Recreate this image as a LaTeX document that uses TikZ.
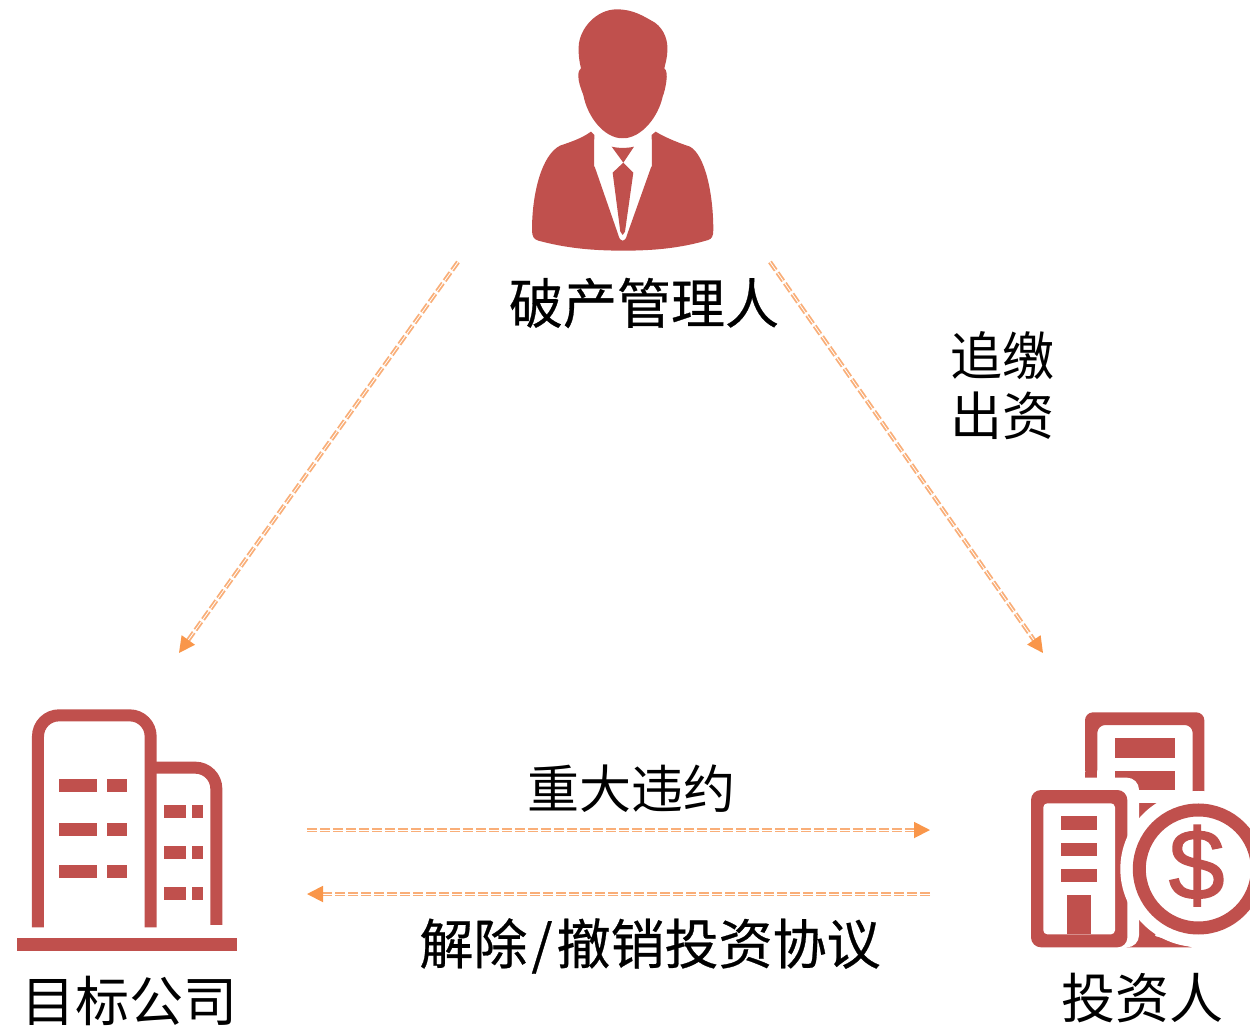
\documentclass[tikz,border=0pt]{standalone}
\usepackage{fontspec}
\newfontfamily\cjk{Noto Sans CJK SC}
\newfontfamily\cjkheavy[FakeBold=0.5]{Noto Sans CJK SC}
\newfontfamily\dollarfont[FakeBold=1.6]{Liberation Sans}
\usetikzlibrary{arrows.meta}
\definecolor{iconred}{HTML}{C0504D}
\definecolor{tiporange}{HTML}{F9964A}
\definecolor{lineorange}{HTML}{F9AE78}
\tikzset{
  iconline/.style={draw=iconred,line width=12pt,line cap=butt},
  haloshape/.style={fill=white,draw=none},
  label/.style={font=\cjk\fontsize{52}{52}\selectfont,text=black,inner sep=0pt,align=center},
  biglabel/.style={font=\cjk\fontsize{54}{54}\selectfont,text=black,inner sep=0pt,align=center},
  heavylabel/.style={font=\cjkheavy\fontsize{54}{54}\selectfont,text=black,inner sep=0pt,align=center},
  flow/.style={draw=lineorange,line width=1.8pt,double=white,double distance=0.8pt,
    dash pattern=on 10pt off 3pt,
    -{Triangle[length=16pt,width=16pt,color=tiporange,fill=tiporange,sep=0pt]}}
}
\begin{document}
\begin{tikzpicture}[x=1pt,y=-1pt]
\useasboundingbox (0,0) rectangle (1250,1029);
\clip (0,0) rectangle (1250,1029);

% ---- person
\begin{scope}[shift={(510,0)},x=0.3333pt,y=-0.3333pt]
\fill[iconred] (320,28) .. controls (370,28) and (400,48) .. (435,68)
  .. controls (465,90) and (474,125) .. (472,150)
  .. controls (472,175) and (466,190) .. (463,205)
  .. controls (470,210) and (472,225) .. (469,245)
  .. controls (466,265) and (462,280) .. (458,290)
  .. controls (445,350) and (395,415) .. (338,415)
  .. controls (282,415) and (232,350) .. (220,285)
  .. controls (212,265) and (205,245) .. (205,228)
  .. controls (205,215) and (208,208) .. (213,205)
  .. controls (208,185) and (205,165) .. (206,140)
  .. controls (208,85) and (260,28) .. (320,28) -- cycle;
\fill[iconred] (243,395) -- (253,405) -- (253,497) -- (325,705)
  .. controls (330,728) and (346,728) .. (351,705)
  -- (425,497) -- (425,405) -- (437,395)
  .. controls (470,415) and (510,430) .. (540,440)
  .. controls (585,465) and (610,580) .. (610,690)
  .. controls (610,710) and (605,716) .. (595,720)
  .. controls (510,745) and (430,752) .. (340,752)
  .. controls (250,752) and (170,745) .. (85,722)
  .. controls (72,718) and (66,710) .. (66,690)
  .. controls (66,580) and (95,465) .. (150,437)
  .. controls (185,425) and (215,415) .. (243,395) -- cycle;
\fill[white] (253,418) .. controls (280,425) and (290,425) .. (338,415)
  .. controls (385,425) and (400,425) .. (425,418) -- (425,500) -- (253,500) -- cycle;
\fill[iconred] (305,440) .. controls (325,445) and (352,445) .. (372,440) -- (340,488) -- cycle;
\fill[iconred] (340,488) -- (370,518) -- (345,695) -- (338,705) -- (331,695) -- (308,518) -- cycle;
\end{scope}

% ---- target company building
\begin{scope}[shift={(0,700)},x=0.3333pt,y=-0.3333pt]
\draw[iconline,rounded corners=21pt] (114,682) -- (114,46) -- (452,46) -- (452,682);
\draw[iconline,rounded corners=21pt] (452,203) -- (649,203) -- (649,675);
\fill[iconred] (52,714) rectangle (710,754);
\foreach \wy in {237,369,494}{
  \fill[iconred] (178,\wy) rectangle (290,\wy+39);
  \fill[iconred] (322,\wy) rectangle (380,\wy+39);
}
\foreach \wy in {315,437,561}{
  \fill[iconred] (493,\wy) rectangle (557,\wy+39);
  \fill[iconred] (576,\wy) rectangle (608,\wy+39);
}
\end{scope}

% ---- investor icon
\begin{scope}[shift={(1020,700)},x=0.3333pt,y=-0.3333pt]
\fill[iconred,rounded corners=8pt] (195,233) -- (195,37) -- (553,37) -- (553,300) -- (518,300) -- (518,75) -- (232,75) -- (232,233) -- cycle;
\fill[iconred] (195,215) rectangle (232,233);
\fill[iconred] (285,114) rectangle (464,173);
\fill[iconred] (285,213) rectangle (464,270);
\fill[iconred] (340,310) rectangle (430,400);
\fill[iconred] (320,640) -- (420,650) -- (405,708) -- (515,742) -- (320,742) -- cycle;
% halo of the front building
\fill[haloshape,rounded corners=12pt] (0,233) rectangle (357,742);
\fill[white] (0,233) rectangle (300,760);
% front building
\fill[iconred,rounded corners=10pt] (33,270) rectangle (322,742);
\fill[white,rounded corners=4pt] (70,310) rectangle (285,703);
\foreach \wy/\wh in {349/40,428/39,507/39}{
  \fill[iconred] (123,\wy) rectangle (231,\wy+\wh);
}
\fill[iconred] (141,585) rectangle (213,703);
% coin
\fill[haloshape] (535,507) circle[radius=78pt];
\draw[draw=iconred,line width=13pt] (535,507) circle[radius=59pt];
\node[font=\dollarfont\fontsize{100}{100}\selectfont,text=iconred,inner sep=0pt] (dollar) at (530,497) {\$};
\end{scope}

% ---- labels
\node[heavylabel] (manager) at (644,303) {破产管理人};
\node[biglabel] (target) at (129,1001) {目标公司};
\node[biglabel] (investor) at (1142,998) {投资人};
\node[label] (breach) at (631,789) {重大违约};
\node[heavylabel] (rescind) at (650,946) {解除\hspace{4pt}/\hspace{4pt}撤销投资协议};
\node[label] (callA) at (1002,356) {追缴};
\node[label] (callB) at (1002,416) {出资};

% ---- connector ends
\coordinate (mgrL) at (458,262);
\coordinate (tgtT) at (179,653);
\coordinate (mgrR) at (770,262);
\coordinate (invT) at (1043,653);
\coordinate (tgtA) at (307,830);
\coordinate (invA) at (930,830);
\coordinate (invB) at (930,894);
\coordinate (tgtB) at (307,894);
\draw[flow] (mgrL) -- (tgtT);
\draw[flow] (mgrR) -- (invT);
\draw[flow] (tgtA) -- (invA);
\draw[flow] (invB) -- (tgtB);
\end{tikzpicture}
\end{document}
